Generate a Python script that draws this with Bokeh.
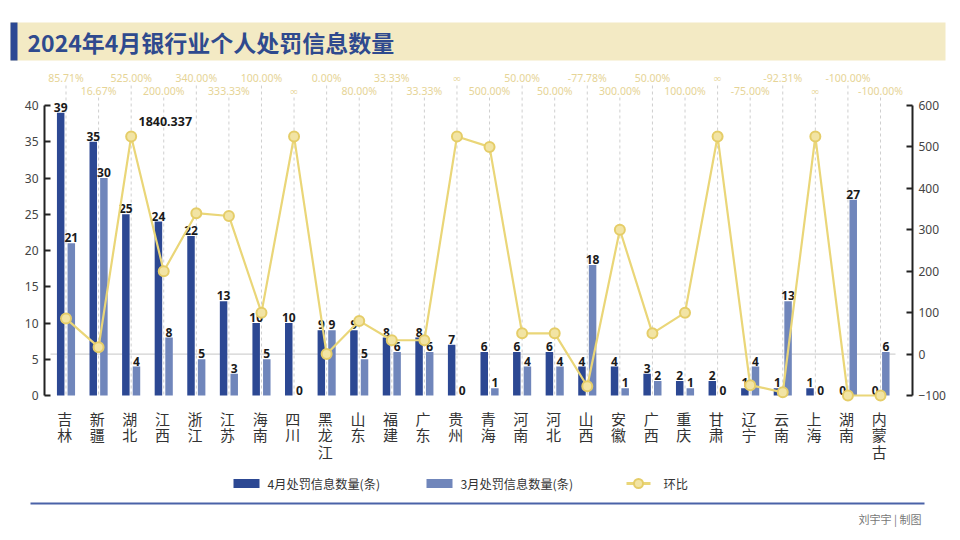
from bokeh.plotting import figure
from bokeh.models import Range1d, LinearAxis, FixedTicker, ColumnDataSource
from bokeh.layouts import column
from bokeh.transform import dodge
from bokeh.core.properties import value
from bokeh.embed import file_html
from bokeh.resources import INLINE

# ---------------- data ----------------
provinces = ["吉林", "新疆", "湖北", "江西", "浙江", "江苏", "海南", "四川", "黑龙江", "山东",
             "福建", "广东", "贵州", "青海", "河南", "河北", "山西", "安徽", "广西", "重庆",
             "甘肃", "辽宁", "云南", "上海", "湖南", "内蒙古"]
april = [39, 35, 25, 24, 22, 13, 10, 10, 9, 9, 8, 8, 7, 6, 6, 6, 4, 4, 3, 2, 2, 1, 1, 1, 0, 0]
march = [21, 30, 4, 8, 5, 3, 5, 0, 9, 5, 6, 6, 0, 1, 4, 4, 18, 1, 2, 1, 0, 4, 13, 0, 27, 6]
# month-on-month change (%); "∞" points are drawn at the height
mom_values = [85.71, 16.67, 525, 200, 340, 333.33, 100, 525, 0, 80, 33.33, 33.33, 525, 500,
              50, 50, -77.78, 300, 50, 100, 525, -75, -92.31, 525, -100, -100]
mom_labels = ["85.71%", "16.67%", "525.00%", "200.00%", "340.00%", "333.33%", "100.00%", "∞",
              "0.00%", "80.00%", "33.33%", "33.33%", "∞", "500.00%", "50.00%", "50.00%",
              "-77.78%", "300.00%", "50.00%", "100.00%", "∞", "-75.00%", "-92.31%", "∞",
              "-100.00%", "-100.00%"]
left_ticks = [0, 5, 10, 15, 20, 25, 30, 35, 40]
right_ticks = [-100, 0, 100, 200, 300, 400, 500, 600]
title_text = "2024年4月银行业个人处罚信息数量"
legend_labels = ["4月处罚信息数量(条)", "3月处罚信息数量(条)", "环比"]
credit = "刘宇宇 | 制图"
stray_note = "1840.337"

# ---------------- style ----------------
C_APR = "#2c4893"
C_MAR = "#7086bb"
C_LINE = "#ead678"
C_PCT = "#e6d496"
CJK = "Noto Sans CJK SC"
W = 952

# geometry helpers (page px -> data)
Y0 = 395.0      # page y of 0 on left axis / -100 on right axis
LPX = 7.25      # px per unit (left)
RPX = 0.4143    # px per unit (right)
T_H, M_TOP, M_BOT, B_H = 64, 64.0, 472.0, 60
FR_L, FR_R = 44.0, 912.0
C0, STEP = 65.5, 32.58

def ly(wy):
    return (Y0 - wy) / LPX
def ry(wy):
    return -100 + (Y0 - wy) / RPX
def xd(wx):
    return (wx - C0) / STEP

n = len(provinces)
xs = list(range(n))

def deco_fig(h):
    f = figure(width=W, height=h, x_range=Range1d(0, W), y_range=Range1d(h, 0),
               output_backend="svg", toolbar_location=None, min_border=0,
               min_border_left=0, min_border_right=0, min_border_top=0, min_border_bottom=0,
               x_axis_location=None, y_axis_location=None, frame_align=False)
    f.outline_line_color = None
    f.grid.visible = False
    return f

# ---------------- title figure ----------------
pt = deco_fig(T_H)
pt.quad(left=10, right=945, top=22, bottom=60, fill_color="#f3eac4", line_color=None)
pt.quad(left=10, right=17, top=22, bottom=60, fill_color=C_APR, line_color=None)
pt.text(x=[27], y=[41], text=[title_text], text_font=value(CJK), text_font_style="bold",
        text_font_size="23px", text_color="#2f4a8e", text_baseline="middle", text_align="left")

# ---------------- main figure ----------------
src = ColumnDataSource(dict(x=xs, apr=april, mar=march, mom=mom_values, lab=mom_labels,
                            apr_t=[str(v) for v in april], mar_t=[str(v) for v in march],
                            prov=["\n".join(list(s)) for s in provinces],
                            xl=[x - 0.04 for x in xs], yl=[ly(407)] * n))

p = figure(width=W, height=int(M_BOT - M_TOP), x_range=Range1d(xd(FR_L), xd(FR_R)),
           y_range=Range1d(ly(M_BOT), ly(M_TOP)),
           output_backend="svg", toolbar_location=None,
           x_axis_location=None, y_axis_location="left", frame_align=False,
           min_border_left=int(FR_L), min_border_right=int(W - FR_R),
           min_border_top=0, min_border_bottom=0)
p.outline_line_color = None
p.grid.visible = False
p.extra_y_ranges = {"pct": Range1d(ry(M_BOT), ry(M_TOP))}

def style_axis(ax, ticks, bounds):
    ax.ticker = FixedTicker(ticks=ticks)
    ax.bounds = bounds
    ax.axis_line_color = "#222222"
    ax.axis_line_width = 2
    ax.major_tick_line_color = "#222222"
    ax.major_tick_line_width = 2
    ax.major_tick_in = 6
    ax.major_tick_out = 0
    ax.minor_tick_line_color = None
    ax.major_label_text_font = "Noto Sans"
    ax.major_label_text_font_size = "12px"
    ax.major_label_text_color = "#444444"
    ax.major_label_standoff = 6

style_axis(p.yaxis[0], left_ticks, (0, 40))
rax = LinearAxis(y_range_name="pct")
style_axis(rax, right_ticks, (-100, 600))
p.add_layout(rax, "right")

# dashed guides
top_even, top_odd = ly(85), ly(97)
p.segment(x0=xs, x1=xs, y0=[top_even if i % 2 == 0 else top_odd for i in xs], y1=[0] * n,
          line_color="#cfcfcf", line_width=1, line_dash="3 3")
# zero line of the right axis
p.segment(x0=[xd(50)], x1=[xd(895)], y0=[0], y1=[0], y_range_name="pct",
          line_color="#d2d2d2", line_width=1.2)

BW = 0.23
OFF = 0.163
p.vbar(x=dodge("x", -OFF, range=p.x_range), top="apr", width=BW, source=src,
       fill_color=C_APR, line_color=None)
p.vbar(x=dodge("x", OFF, range=p.x_range), top="mar", width=BW, source=src,
       fill_color=C_MAR, line_color=None)

lbl = dict(text_font=value("Noto Sans"), text_font_style="bold", text_font_size="12px",
           text_color="#1a1a1a", text_align="center", text_baseline="bottom", y_offset=-1)
p.text(x=dodge("x", -OFF, range=p.x_range), y="apr", text="apr_t", source=src, **lbl)
p.text(x=dodge("x", OFF, range=p.x_range), y="mar", text="mar_t", source=src, **lbl)

# line
p.line(x="x", y="mom", source=src, y_range_name="pct", line_color=C_LINE, line_width=2.2)
p.scatter(x="x", y="mom", source=src, y_range_name="pct", size=10, marker="circle",
          fill_color="#f2e4a4", line_color="#e5cd68", line_width=2)

# percent labels (two alternating rows)
pct_y = [ly(77) if i % 2 == 0 else ly(90) for i in xs]
p.text(x=xs, y=pct_y, text=mom_labels, text_font=value("Noto Sans"), text_font_size="10.5px",
       text_color=C_PCT, text_align="center", text_baseline="middle")

# stray annotation seen in the original
p.text(x=[xd(138)], y=[ly(121)], text=[stray_note], text_font=value("Noto Sans"),
       text_font_style="bold", text_font_size="12.5px", text_color="#1a1a1a",
       text_align="left", text_baseline="middle")

# category labels (vertical stacked)
p.text(x="xl", y="yl", text="prov", source=src,
       text_font=value(CJK), text_font_size="15px", text_color="#333333",
       text_align="center", text_baseline="top", text_line_height=0.8)

# ---------------- legend / footer figure ----------------
pb = deco_fig(B_H)
LY = 483 - M_BOT
pb.quad(left=[233, 426], right=[259, 452], top=[LY - 4.5] * 2, bottom=[LY + 4.5] * 2,
        fill_color=[C_APR, C_MAR], line_color=None)
pb.line(x=[626, 650], y=[LY, LY], line_color=C_LINE, line_width=3)
pb.scatter(x=[638], y=[LY], size=9, marker="circle", fill_color="#f2e4a4",
           line_color="#e5cd68", line_width=2)
pb.text(x=[267, 460, 663], y=[LY] * 3, text=legend_labels, text_font=value(CJK),
        text_font_size="12.2px", text_color="#333333", text_align="left", text_baseline="middle")
pb.segment(x0=[30], x1=[924], y0=[503 - M_BOT], y1=[503 - M_BOT],
           line_color="#4a62a8", line_width=2)
pb.text(x=[921], y=[518 - M_BOT], text=[credit], text_font=value(CJK), text_font_size="11px",
        text_color="#777777", text_align="right", text_baseline="middle")

layout = column(pt, p, pb, spacing=0)
open("out.html", "w").write(file_html(layout, INLINE))
